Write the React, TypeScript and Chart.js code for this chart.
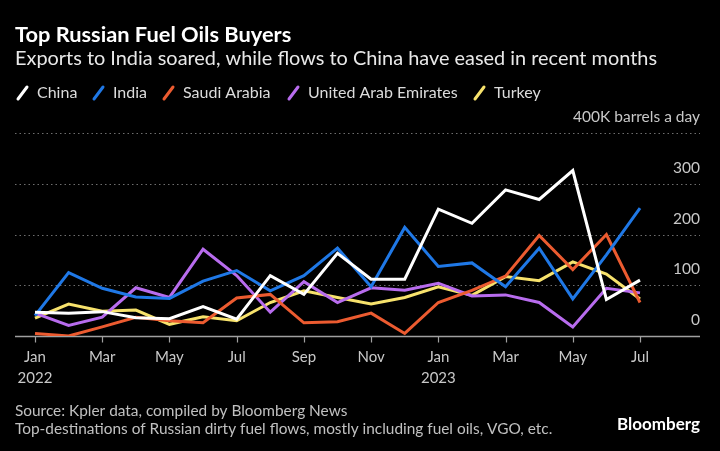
import React, { useEffect, useRef } from "react";
import { Chart, registerables } from "chart.js";

Chart.register(...registerables);

// ---- Data ----
const months = [
  "Jan 2022", "Feb 2022", "Mar 2022", "Apr 2022", "May 2022", "Jun 2022",
  "Jul 2022", "Aug 2022", "Sep 2022", "Oct 2022", "Nov 2022", "Dec 2022",
  "Jan 2023", "Feb 2023", "Mar 2023", "Apr 2023", "May 2023", "Jun 2023", "Jul 2023",
];
const china = [47, 45, 48, 36, 34, 58, 33, 119, 82, 163, 112, 112, 250, 222, 288, 269, 326, 72, 110];
const india = [40, 125, 94, 77, 74, 108, 129, 89, 119, 173, 97, 214, 137, 144, 97, 173, 73, 160, 252];
const saudiArabia = [5, 0, 18, 37, 30, 26, 75, 82, 26, 28, 45, 5, 66, 90, 118, 198, 131, 200, 66];
const uae = [45, 21, 37, 95, 76, 171, 119, 47, 107, 66, 95, 90, 104, 79, 81, 66, 18, 94, 85];
const turkey = [35, 63, 49, 51, 23, 38, 30, 66, 89, 76, 63, 76, 97, 80, 117, 109, 146, 122, 73];

const seriesNames = ["China", "India", "Saudi Arabia", "United Arab Emirates", "Turkey"];
const seriesColors = ["#ffffff", "#1f78e6", "#ec5b30", "#b86cee", "#f7e26c"];

const xTickIndex = [0, 2, 4, 6, 8, 10, 12, 14, 16, 18];
const xTickMonth = ["Jan", "Mar", "May", "Jul", "Sep", "Nov", "Jan", "Mar", "May", "Jul"];
const xTickYear = ["2022", "", "", "", "", "", "2023", "", "", ""];
const yTickValues = [0, 100, 200, 300, 400];
const yTickLabels = ["0", "100", "200", "300", "400K barrels a day"];

const title = "Top Russian Fuel Oils Buyers";
const subtitle = "Exports to India soared, while flows to China have eased in recent months";
const source1 = "Source: Kpler data, compiled by Bloomberg News";
const source2 = "Top-destinations of Russian dirty fuel flows, mostly including fuel oils, VGO, etc.";

const FONT = "Lato, 'Open Sans', Roboto, sans-serif";

const decorPlugin = {
  id: "decor",
  beforeDraw(chart: any) {
    const ctx = chart.ctx;
    ctx.save();
    ctx.fillStyle = "#000";
    ctx.fillRect(0, 0, chart.width, chart.height);
    ctx.restore();
  },
  beforeDatasetsDraw(chart: any) {
    const ctx = chart.ctx;
    const { left, right } = chart.chartArea;
    const ys = chart.scales.y;
    const xs = chart.scales.x;
    ctx.save();
    // dotted gridlines
    ctx.strokeStyle = "#6e6e6e";
    ctx.lineWidth = 1;
    ctx.setLineDash([1.5, 3]);
    yTickValues.forEach((v) => {
      if (v === 0) return;
      const y = Math.round(ys.getPixelForValue(v)) + 0.5;
      ctx.beginPath();
      ctx.moveTo(left, y);
      ctx.lineTo(right, y);
      ctx.stroke();
    });
    ctx.setLineDash([]);
    // baseline
    const y0 = Math.round(ys.getPixelForValue(0)) + 0.5;
    ctx.strokeStyle = "#a0a0a0";
    ctx.lineWidth = 1.5;
    ctx.beginPath();
    ctx.moveTo(left, y0);
    ctx.lineTo(right, y0);
    ctx.stroke();
    // x tick marks
    ctx.lineWidth = 1.2;
    xTickIndex.forEach((i) => {
      const x = Math.round(xs.getPixelForValue(i)) + 0.5;
      ctx.beginPath();
      ctx.moveTo(x, y0);
      ctx.lineTo(x, y0 + 6);
      ctx.stroke();
    });
    ctx.restore();
  },
  afterDraw(chart: any) {
    const ctx = chart.ctx;
    const { right } = chart.chartArea;
    const ys = chart.scales.y;
    const xs = chart.scales.x;
    ctx.save();
    ctx.textBaseline = "middle";
    // Title
    ctx.fillStyle = "#ffffff";
    ctx.font = `bold 21.8px ${FONT}`;
    ctx.textAlign = "left";
    ctx.fillText(title, 15, 35);
    ctx.fillStyle = "#e8e8e8";
    ctx.font = `19.9px ${FONT}`;
    ctx.fillText(subtitle, 15, 59);
    // Legend
    ctx.font = `16px ${FONT}`;
    const legendX = [17, 93, 163, 288, 474];
    seriesNames.forEach((name, k) => {
      const x = legendX[k];
      ctx.strokeStyle = seriesColors[k];
      ctx.lineWidth = 3;
      ctx.lineCap = "round";
      ctx.beginPath();
      ctx.moveTo(x + 1, 99);
      ctx.lineTo(x + 10, 87);
      ctx.stroke();
      ctx.fillStyle = "#dcdcdc";
      ctx.fillText(name, x + 20, 93);
    });
    // y labels
    ctx.fillStyle = "#c8c8c8";
    ctx.font = `15.5px ${FONT}`;
    ctx.textAlign = "right";
    yTickValues.forEach((v, k) => {
      const y = ys.getPixelForValue(v) - 16;
      ctx.fillText(yTickLabels[k], right, y);
    });
    // x labels
    ctx.textAlign = "center";
    ctx.font = `15px ${FONT}`;
    const yb = ys.getPixelForValue(0);
    xTickIndex.forEach((i, k) => {
      const x = xs.getPixelForValue(i);
      ctx.fillText(xTickMonth[k], x, yb + 21);
      if (xTickYear[k]) ctx.fillText(xTickYear[k], x, yb + 42);
    });
    // footer
    ctx.textAlign = "left";
    ctx.fillStyle = "#c0c0c0";
    ctx.font = `15.4px ${FONT}`;
    ctx.fillText(source1, 15, 411);
    ctx.fillText(source2, 15, 429);
    ctx.fillStyle = "#ffffff";
    ctx.font = `bold 17px ${FONT}`;
    ctx.textAlign = "right";
    ctx.fillText("Bloomberg", 700, 425);
    ctx.restore();
  },
};

export default function App() {
  const ref = useRef<HTMLCanvasElement | null>(null);
  useEffect(() => {
    document.body.style.margin = "0";
    document.body.style.background = "#000";
    const canvas = ref.current!;
    const all = [china, india, saudiArabia, uae, turkey];
    const chart = new Chart(canvas, {
      type: "line",
      data: {
        datasets: all.map((arr, k) => ({
          label: seriesNames[k],
          data: arr.map((v, i) => ({ x: i, y: v })),
          borderColor: seriesColors[k],
          backgroundColor: seriesColors[k],
          borderWidth: 3,
          pointRadius: 0,
          tension: 0,
          fill: false,
        })),
      },
      options: {
        responsive: false,
        animation: false,
        devicePixelRatio: 1,
        layout: { padding: { left: 15, right: 20, top: 133, bottom: 115 } },
        plugins: { legend: { display: false }, tooltip: { enabled: false }, title: { display: false } },
        scales: {
          x: { type: "linear", min: -0.595, max: 19.785, display: false },
          y: { type: "linear", min: 0, max: 400, display: false },
        },
      },
      plugins: [decorPlugin],
    });
    return () => chart.destroy();
  }, []);
  return <canvas ref={ref} width={720} height={451} style={{ display: "block", width: 720, height: 451 }} />;
}
